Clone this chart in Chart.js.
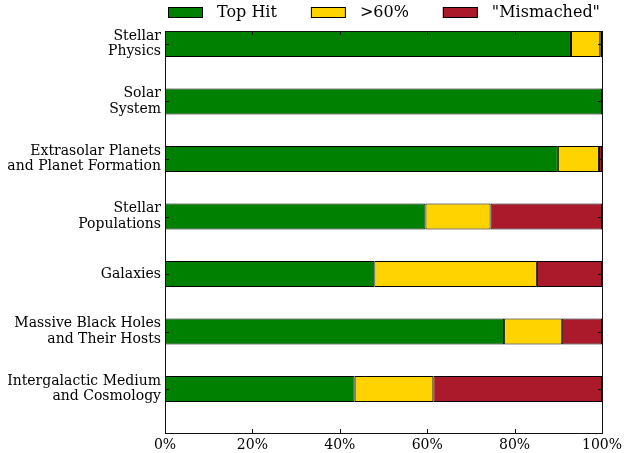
<!DOCTYPE html>
<html>
<head>
<meta charset="utf-8">
<script src="https://cdn.jsdelivr.net/npm/chart.js@4"></script>
<style>
  html, body { margin: 0; padding: 0; background: #fff; }
  #chart { display: block; }
</style>
</head>
<body>
<canvas id="chart" width="624" height="453"></canvas>
<script>
const categories = [
  "Stellar\nPhysics",
  "Solar\nSystem",
  "Extrasolar Planets\nand Planet Formation",
  "Stellar\nPopulations",
  "Galaxies",
  "Massive Black Holes\nand Their Hosts",
  "Intergalactic Medium\nand Cosmology",
];
const topHit =     [92.9, 100, 89.9, 59.6, 47.9, 77.6, 43.4];
const above60 =    [6.7,  0,   9.4,  14.9, 37.2, 13.2, 18.0];
const mismatched = [0.4,  0,   0.7,  25.5, 14.9, 9.2,  38.6];
const xTicks = [0, 20, 40, 60, 80, 100];

const FONT = "'DejaVu Serif', serif";

const asPoints = vals => vals.map((v, i) => ({ x: v, y: i }));

// matplotlib style frame with inward ticks, drawn on top of the bars
const framePlugin = {
  id: "frame",
  afterDatasetsDraw(chart) {
    const { ctx, chartArea: a, scales: { x, y } } = chart;
    ctx.save();
    ctx.strokeStyle = "#111";
    ctx.lineWidth = 1;
    ctx.strokeRect(Math.round(a.left) + 0.5, Math.round(a.top) + 0.5,
      Math.round(a.right - a.left), Math.round(a.bottom - a.top));
    ctx.beginPath();
    xTicks.forEach(v => {
      const px = Math.round(x.getPixelForValue(v)) + 0.5;
      ctx.moveTo(px, a.top); ctx.lineTo(px, a.top + 4);
      ctx.moveTo(px, a.bottom); ctx.lineTo(px, a.bottom - 4);
    });
    categories.forEach((_, i) => {
      const py = Math.round(y.getPixelForValue(i)) + 0.5;
      ctx.moveTo(a.left, py); ctx.lineTo(a.left + 4, py);
      ctx.moveTo(a.right, py); ctx.lineTo(a.right - 4, py);
    });
    ctx.stroke();
    ctx.restore();
  },
};

// legend laid out like the matplotlib one (wide gaps between entries)
const legendPlugin = {
  id: "wideLegend",
  afterDraw(chart) {
    const { ctx, chartArea: a } = chart;
    ctx.save();
    ctx.font = "16px " + FONT;
    ctx.textBaseline = "middle";
    ctx.textAlign = "left";
    let cx = a.left + 3;
    chart.data.datasets.forEach(ds => {
      ctx.fillStyle = ds.backgroundColor;
      ctx.fillRect(cx, 7, 35, 11);
      ctx.strokeStyle = "#000";
      ctx.strokeRect(cx + 0.5, 7.5, 34, 10);
      ctx.fillStyle = "#000";
      ctx.fillText(ds.label, cx + 49, 13);
      cx += 49 + ctx.measureText(ds.label).width + 34;
    });
    ctx.restore();
  },
};

const barStyle = {
  borderColor: "#000",
  borderWidth: 1,
  borderSkipped: false,
  categoryPercentage: 1,
  barPercentage: 0.453,
};

new Chart(document.getElementById("chart"), {
  type: "bar",
  data: {
    datasets: [
      { label: "Top Hit", data: asPoints(topHit), backgroundColor: "#008000", ...barStyle },
      { label: ">60%", data: asPoints(above60), backgroundColor: "#FFD300", ...barStyle },
      { label: "\"Mismached\"", data: asPoints(mismatched), backgroundColor: "#AA1A2B", ...barStyle },
    ],
  },
  options: {
    responsive: false,
    animation: false,
    indexAxis: "y",
    layout: { padding: { top: 31, right: 0 } },
    plugins: { legend: { display: false }, tooltip: { enabled: false } },
    scales: {
      x: {
        type: "linear",
        stacked: true,
        min: 0,
        max: 100,
        grid: { display: false, drawTicks: false },
        border: { display: false },
        afterBuildTicks: s => { s.ticks = xTicks.map(v => ({ value: v })); },
        afterFit: s => { s.height = 20; s.paddingRight = 22; },
        ticks: {
          color: "#000",
          padding: 4,
          font: { family: FONT, size: 14 },
          callback: v => v + "%",
        },
      },
      y: {
        type: "linear",
        stacked: true,
        reverse: true,
        offset: false,
        min: -0.226,
        max: 6.765,
        grid: { display: false, drawTicks: false, offset: false },
        border: { display: false },
        afterBuildTicks: s => { s.ticks = categories.map((_, i) => ({ value: i })); },
        afterFit: s => { s.width = 165; },
        ticks: {
          color: "#000",
          padding: 4,
          font: { family: FONT, size: 14, lineHeight: 1.1 },
          callback: v => categories[v].split("\n"),
        },
      },
    },
  },
  plugins: [framePlugin, legendPlugin],
});
</script>
</body>
</html>
